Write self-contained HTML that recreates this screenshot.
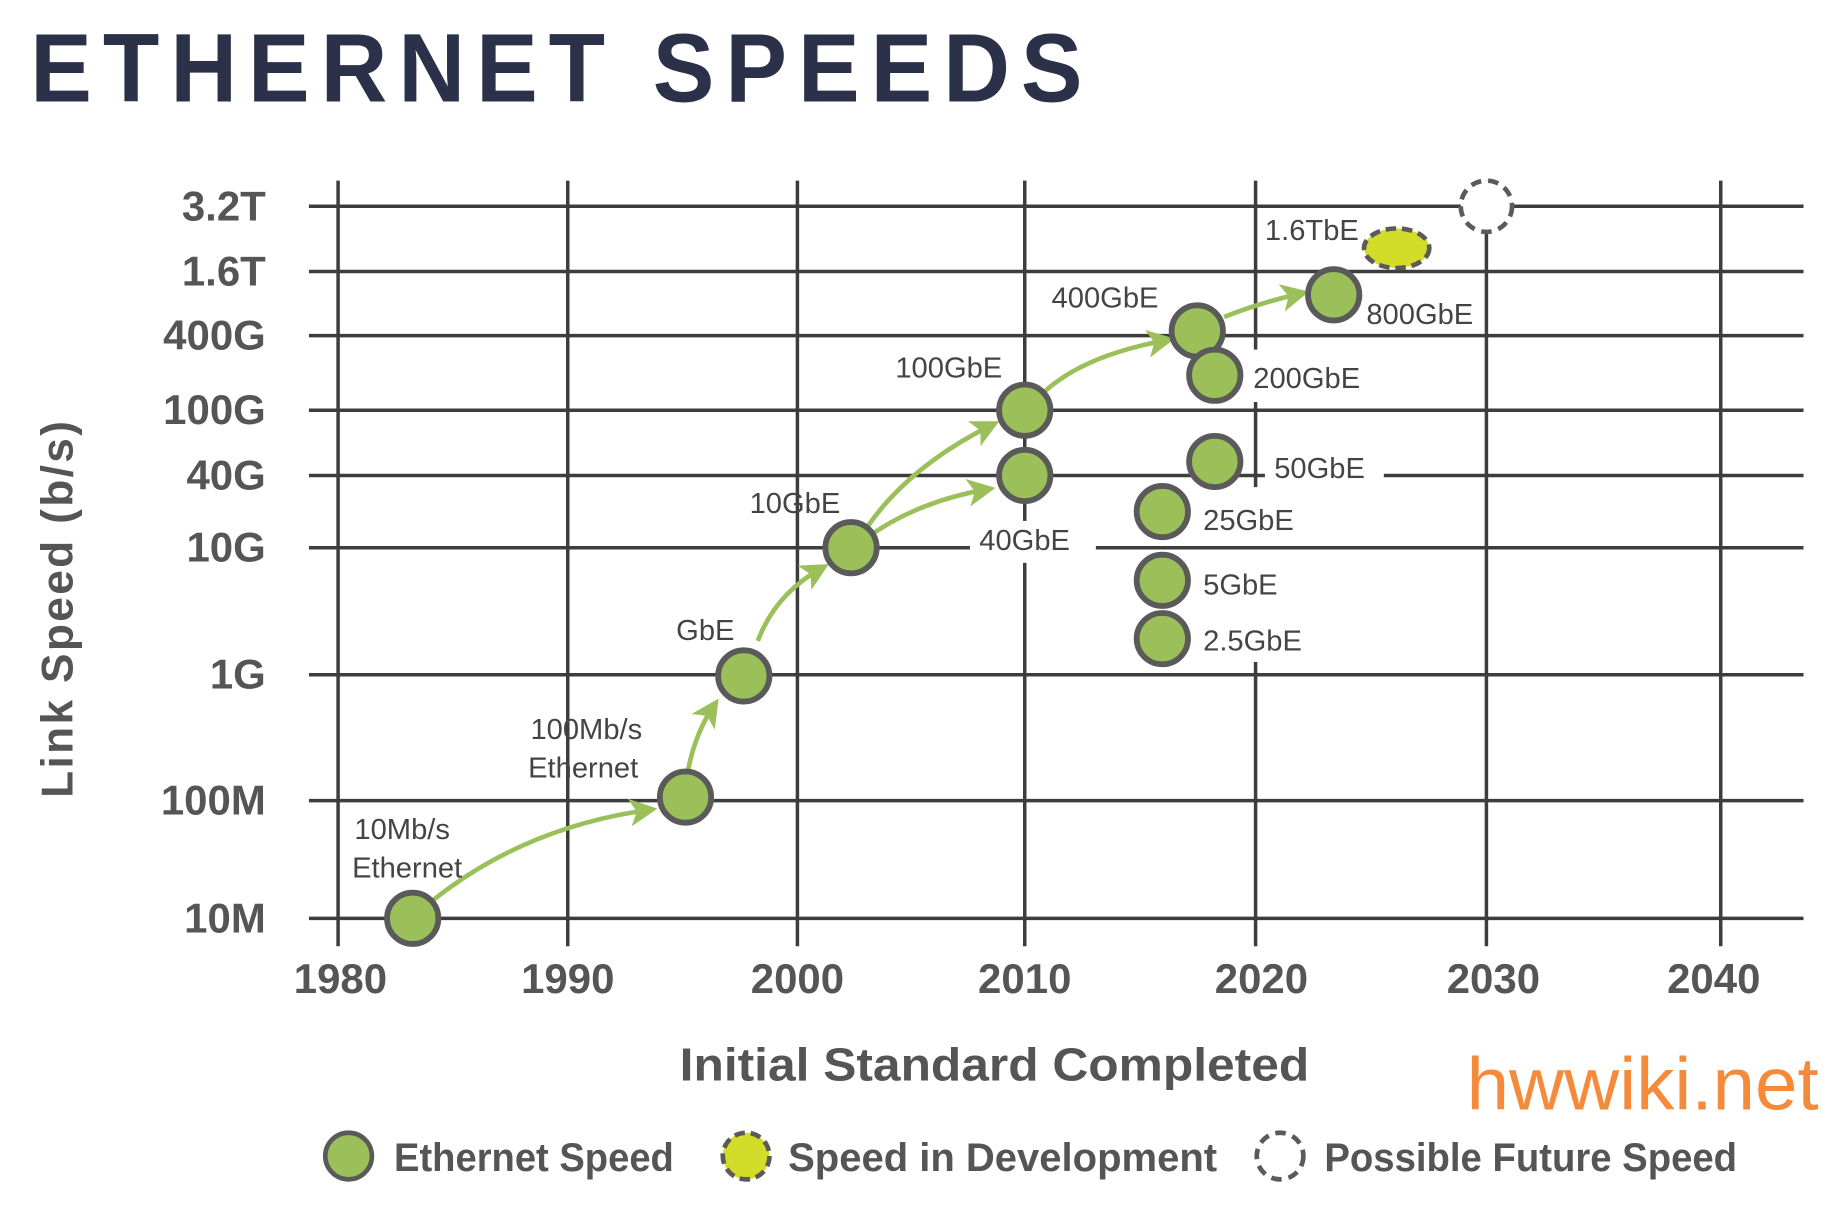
<!DOCTYPE html>
<html><head><meta charset="utf-8"><style>html,body{margin:0;padding:0;background:#fff;overflow:hidden}svg{display:block}</style></head>
<body>
<svg width="1828" height="1205" viewBox="0 0 1568 1034" preserveAspectRatio="none" xmlns="http://www.w3.org/2000/svg" font-family="Liberation Sans, sans-serif">
<defs>
<marker id="ah" markerWidth="6" markerHeight="6" refX="4" refY="3" orient="auto" markerUnits="strokeWidth"><path d="M0,0 L6,3 L0,6 L1.5,3 Z" fill="#9bc05a"/></marker>
</defs>
<text x="26" y="87" font-size="84" font-weight="bold" fill="#2b3149" letter-spacing="10" textLength="912" lengthAdjust="spacingAndGlyphs">ETHERNET SPEEDS</text>
<g stroke="#3d3d3d" stroke-width="3">
<line x1="290" y1="155" x2="290" y2="812"/><line x1="487" y1="155" x2="487" y2="812"/><line x1="684" y1="155" x2="684" y2="812"/><line x1="879" y1="155" x2="879" y2="812"/><line x1="1077" y1="155" x2="1077" y2="812"/><line x1="1275" y1="155" x2="1275" y2="812"/><line x1="1476" y1="155" x2="1476" y2="812"/>
</g>
<g fill="#fff"><rect x="1065" y="300" width="30" height="45"/><rect x="1065" y="418" width="30" height="150"/></g>
<g stroke="#3d3d3d" stroke-width="3">
<line x1="265" y1="177" x2="1547" y2="177"/><line x1="265" y1="233" x2="1547" y2="233"/><line x1="265" y1="288" x2="1547" y2="288"/><line x1="265" y1="352" x2="1547" y2="352"/><line x1="265" y1="408" x2="1547" y2="408"/><line x1="265" y1="470" x2="1547" y2="470"/><line x1="265" y1="579" x2="1547" y2="579"/><line x1="265" y1="687" x2="1547" y2="687"/><line x1="265" y1="788" x2="1547" y2="788"/>
</g>
<g fill="#fff"><rect x="832" y="447" width="108" height="36"/><rect x="1085" y="385" width="102" height="34"/></g>
<g font-size="36" font-weight="bold" fill="#555" text-anchor="end">
<text x="228" y="189">3.2T</text><text x="228" y="245">1.6T</text><text x="228" y="300">400G</text><text x="228" y="364">100G</text><text x="228" y="420">40G</text><text x="228" y="482">10G</text><text x="228" y="591">1G</text><text x="228" y="699">100M</text><text x="228" y="800">10M</text>
</g>
<g font-size="36" font-weight="bold" fill="#555" text-anchor="middle">
<text x="292" y="852">1980</text><text x="487" y="852">1990</text><text x="684" y="852">2000</text><text x="879" y="852">2010</text><text x="1082" y="852">2020</text><text x="1281" y="852">2030</text><text x="1470" y="852">2040</text>
</g>
<text x="853" y="927" font-size="40" font-weight="bold" fill="#555" text-anchor="middle" textLength="540" lengthAdjust="spacingAndGlyphs">Initial Standard Completed</text>
<text transform="translate(62,522) rotate(-90)" font-size="38" font-weight="bold" fill="#555" text-anchor="middle" letter-spacing="2">Link Speed (b/s)</text>
<g fill="none" stroke="#9bc05a" stroke-width="4" marker-end="url(#ah)">
<path d="M372,772 Q450,710 556,695"/>
<path d="M590,662 Q596,630 612,606"/>
<path d="M650,550 Q665,510 704,488"/>
<path d="M744,452 Q780,400 850,365"/>
<path d="M750,457 Q790,430 846,420"/>
<path d="M896,336 Q930,305 1000,292"/>
<path d="M1050,272 Q1080,260 1115,252"/>
</g>
<g fill="#9bc05a" stroke="#5a5a5a" stroke-width="5">
<circle cx="354" cy="788" r="22"/><circle cx="588" cy="684" r="22"/><circle cx="638" cy="580" r="22"/><circle cx="730" cy="470" r="22"/><circle cx="879" cy="352" r="22"/><circle cx="879" cy="408" r="22"/><circle cx="1027" cy="284" r="22"/><circle cx="1042" cy="322" r="22"/><circle cx="1042" cy="396" r="22"/><circle cx="997" cy="439" r="22"/><circle cx="997" cy="498" r="22"/><circle cx="997" cy="548" r="22"/><circle cx="1144" cy="253" r="22"/>
</g>
<ellipse cx="1198" cy="213" rx="28" ry="17" fill="#d4dc2a" stroke="#5a5a5a" stroke-width="4" stroke-dasharray="9,5"/>
<circle cx="1275" cy="177" r="22" fill="#fff" stroke="#5a5a5a" stroke-width="4" stroke-dasharray="9,6"/>
<g font-size="25" fill="#444">
<text x="304" y="720">10Mb/s</text><text x="302" y="753">Ethernet</text>
<text x="455" y="634">100Mb/s</text><text x="453" y="667">Ethernet</text>
<text x="580" y="549">GbE</text><text x="643" y="440">10GbE</text><text x="840" y="472">40GbE</text>
<text x="768" y="324">100GbE</text><text x="902" y="264">400GbE</text><text x="1085" y="206">1.6TbE</text>
<text x="1172" y="278">800GbE</text><text x="1075" y="333">200GbE</text><text x="1093" y="410">50GbE</text>
<text x="1032" y="455">25GbE</text><text x="1032" y="510">5GbE</text><text x="1032" y="558">2.5GbE</text>
</g>
<text x="1258" y="952" font-size="64" fill="#f58a3a" textLength="302" lengthAdjust="spacingAndGlyphs">hwwiki.net</text>
<circle cx="299" cy="992" r="20" fill="#9bc05a" stroke="#5a5a5a" stroke-width="4"/>
<circle cx="640" cy="992" r="20" fill="#d4dc2a" stroke="#5a5a5a" stroke-width="4" stroke-dasharray="9,5"/>
<circle cx="1098" cy="992" r="20" fill="#fff" stroke="#5a5a5a" stroke-width="4" stroke-dasharray="9,6"/>
<g font-size="34" font-weight="bold" fill="#555">
<text x="338" y="1005" textLength="240" lengthAdjust="spacingAndGlyphs">Ethernet Speed</text>
<text x="676" y="1005" textLength="368" lengthAdjust="spacingAndGlyphs">Speed in Development</text>
<text x="1136" y="1005" textLength="354" lengthAdjust="spacingAndGlyphs">Possible Future Speed</text>
</g>
</svg>
</body></html>
